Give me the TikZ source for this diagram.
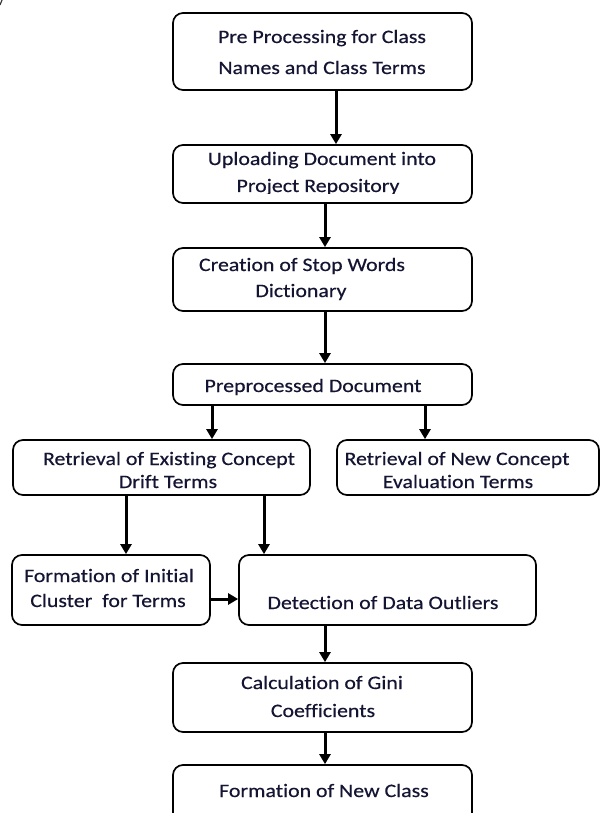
\documentclass[tikz,border=0pt]{standalone}
\usepackage{fontspec}
\setmainfont{Carlito}[FakeStretch=1.15, FakeBold=0.4, Ligatures=NoCommon]
\usetikzlibrary{arrows.meta}
\definecolor{txt}{rgb}{0.08,0.08,0.2}
\tikzset{
  box/.style={draw=black, line width=1.7pt, rounded corners=10pt, fill=white, inner sep=0pt},
  lbl/.style={anchor=base, inner sep=0pt, text=txt, font=\fontsize{19}{21}\selectfont},
  arr/.style={draw=black, line width=3pt, -{Triangle[width=11pt,length=10pt]}}
}
\begin{document}
\begin{tikzpicture}[x=1pt,y=-1pt]
\useasboundingbox (0,0) rectangle (600,813);
\fill[white] (0,0) rectangle (600,813);
% small artifact at top left
\draw[line width=1.2pt, black!80] (0,5) -- (2,0);

% boxes
\node[box, minimum width=299pt, minimum height=77pt] (b1) at (322.5,51.5) {};
\node[box, minimum width=299pt, minimum height=58pt] (b2) at (322.5,174) {};
\node[box, minimum width=299pt, minimum height=63pt] (b3) at (322.5,279.5) {};
\node[box, minimum width=299pt, minimum height=41pt] (b4) at (322.5,384.5) {};
\node[box, minimum width=297pt, minimum height=55pt] (b5l) at (161.5,467.5) {};
\node[box, minimum width=262pt, minimum height=55pt] (b5r) at (468,467.5) {};
\node[box, minimum width=198pt, minimum height=70pt] (b6l) at (111,590) {};
\node[box, minimum width=297pt, minimum height=70pt] (b6r) at (387.5,590) {};
\node[box, minimum width=299pt, minimum height=69pt] (b7) at (322.5,697.5) {};
\node[box, minimum width=299pt, minimum height=95pt] (b8) at (322.5,812.5) {};

% texts
\node[lbl] (t1a) at (322,43) {Pre Processing for Class};
\node[lbl] (t1b) at (322,74) {Names and Class Terms};
\node[lbl] (t2a) at (322,165) {Uploading Document into};
\begin{scope}
  \clip (174,146) rectangle (471,193.5);
  \node[lbl] (t2b) at (318,192) {Project Repository};
\end{scope}
\node[lbl] (t3a) at (302,271) {Creation of Stop Words};
\node[lbl] (t3b) at (301,297) {Dictionary};
\node[lbl] (t4) at (313,392) {Preprocessed Document};
\node[lbl] (t5la) at (169,465) {Retrieval of Existing Concept};
\node[lbl] (t5lb) at (168,488) {Drift Terms};
\node[lbl] (t5ra) at (457,465) {Retrieval of New Concept};
\node[lbl] (t5rb) at (458,488) {Evaluation Terms};
\node[lbl] (t6la) at (109,582) {Formation of Initial};
\node[lbl] (t6lb) at (108,607) {Cluster\ \ for Terms};
\node[lbl] (t6r) at (383,609) {Detection of Data Outliers};
\node[lbl] (t7a) at (322,689) {Calculation of Gini};
\node[lbl] (t7b) at (323,717) {Coefficients};
\node[lbl] (t8) at (324,797) {Formation of New Class};

% connectors
\draw[arr] ([xshift=13.5pt]b1.south) -- ([xshift=13.5pt]b2.north);
\draw[arr] ([xshift=2.5pt]b2.south) -- ([xshift=2.5pt]b3.north);
\draw[arr] ([xshift=2.5pt]b3.south) -- ([xshift=2.5pt]b4.north);
\draw[arr] ([xshift=-110.5pt]b4.south) -- ([xshift=50.5pt]b5l.north);
\draw[arr] ([xshift=102.5pt]b4.south) -- ([xshift=-43pt]b5r.north);
\draw[arr] ([xshift=-35.5pt]b5l.south) -- ([xshift=15pt]b6l.north);
\draw[arr] ([xshift=102.5pt]b5l.south) -- ([xshift=-123.5pt]b6r.north);
\draw[arr] ([yshift=-9pt]b6l.east) -- ([yshift=-9pt]b6r.west);
\draw[arr] ([xshift=-62.5pt]b6r.south) -- ([xshift=2.5pt]b7.north);
\draw[arr] ([xshift=2.5pt]b7.south) -- ([xshift=2.5pt]b8.north);
\end{tikzpicture}
\end{document}
